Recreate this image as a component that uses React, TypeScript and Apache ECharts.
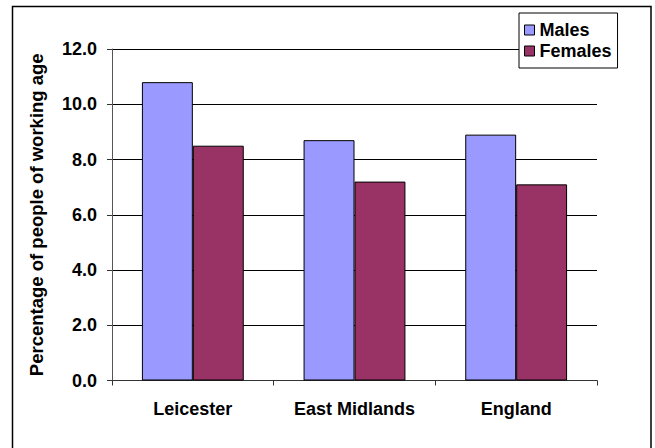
import React, { useEffect, useRef } from "react";
import * as echarts from "echarts";

const categories = ["Leicester", "East Midlands", "England"];
const males = [10.8, 8.7, 8.9];
const females = [8.5, 7.2, 7.1];
const seriesNames = ["Males", "Females"];
const yAxisTitle = "Percentage of people of working age";

const FONT = "'Liberation Sans', Arial, sans-serif";

export default function App() {
  const ref = useRef<HTMLDivElement>(null);
  useEffect(() => {
    if (!ref.current) return;
    const chart = echarts.init(ref.current, null, { renderer: "svg" });
    chart.setOption({
      animation: false,
      backgroundColor: "#fff",
      textStyle: { fontFamily: FONT },
      graphic: [
        {
          type: "rect",
          z: -10,
          shape: { x: 12.5, y: 6.5, width: 638.5, height: 470 },
          style: { fill: "#fff", stroke: "#000", lineWidth: 1.5 },
        },
      ],
      grid: { left: 112, right: 58, top: 49, bottom: 67.5, containLabel: false },
      legend: {
        left: 519,
        top: 13,
        orient: "vertical",
        data: seriesNames,
        padding: [8, 6, 8, 5],
        itemGap: 3,
        itemWidth: 10,
        itemHeight: 10,
        itemTextGap: 12,
        backgroundColor: "#fff",
        borderColor: "#000",
        borderWidth: 1,
        icon: "rect",
        itemStyle: { borderColor: "#000", borderWidth: 1 },
        textStyle: { fontFamily: FONT, fontWeight: "bold", fontSize: 18, color: "#000" },
      },
      xAxis: {
        type: "category",
        data: categories,
        axisLine: { lineStyle: { color: "#333", width: 1 } },
        axisTick: { show: true, length: 5, lineStyle: { color: "#333" } },
        axisLabel: {
          margin: 19,
          fontFamily: FONT,
          fontWeight: "bold",
          fontSize: 18,
          color: "#000",
        },
      },
      yAxis: {
        type: "value",
        min: 0,
        max: 12,
        interval: 2,
        name: yAxisTitle,
        nameLocation: "middle",
        nameGap: 66,
        nameTextStyle: { fontFamily: FONT, fontWeight: "bold", fontSize: 18.5, color: "#000" },
        axisLine: { show: true, lineStyle: { color: "#555", width: 1 } },
        axisTick: { show: true, length: 5, lineStyle: { color: "#333" } },
        splitLine: { show: true, lineStyle: { color: "#000", width: 1 } },
        axisLabel: {
          margin: 15,
          fontFamily: FONT,
          fontWeight: "bold",
          fontSize: 18,
          color: "#000",
          formatter: (v: number) => v.toFixed(1),
        },
      },
      series: [
        {
          name: seriesNames[0],
          type: "bar",
          data: males,
          barGap: "0%",
          barCategoryGap: "37%",
          itemStyle: { color: "#9999FF", borderColor: "#000", borderWidth: 1 },
        },
        {
          name: seriesNames[1],
          type: "bar",
          data: females,
          barGap: "0%",
          barCategoryGap: "37%",
          itemStyle: { color: "#993366", borderColor: "#000", borderWidth: 1 },
        },
      ],
    });
    return () => chart.dispose();
  }, []);
  return (
    <div
      ref={ref}
      style={{ position: "fixed", left: 0, top: 0, width: 655, height: 448 }}
    />
  );
}
